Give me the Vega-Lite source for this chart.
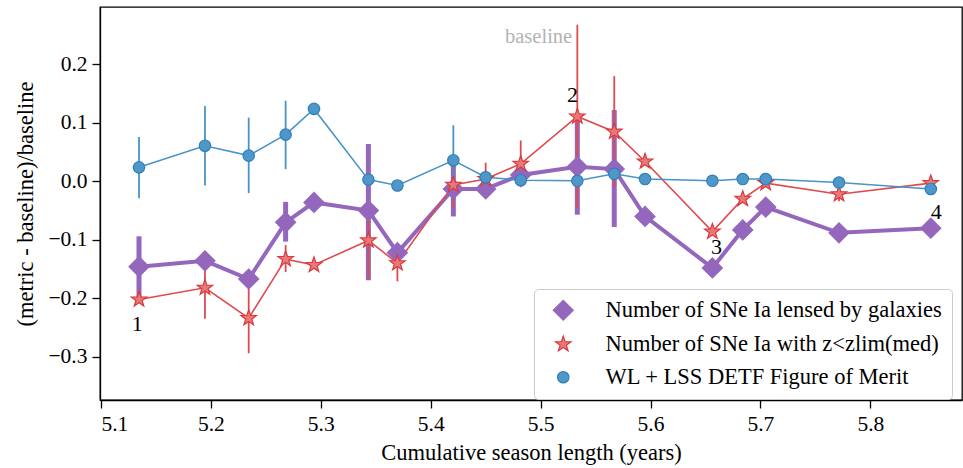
{
  "$schema": "https://vega.github.io/schema/vega-lite/v6.json",
  "width": 862,
  "height": 393,
  "autosize": {"type": "none"},
  "padding": {"left": 100, "top": 7, "right": 1, "bottom": 68},
  "config": {
    "font": "'Liberation Serif', 'DejaVu Serif', 'Times New Roman', serif",
    "view": {"stroke": "#000", "strokeWidth": 1.3},
    "axis": {
      "labelFont": "'Liberation Serif', 'DejaVu Serif', 'Times New Roman', serif", "labelFontSize": 21.5, "labelColor": "#000",
      "titleFont": "'Liberation Serif', 'DejaVu Serif', 'Times New Roman', serif", "titleFontSize": 22.5, "titleFontWeight": "normal", "titleColor": "#000",
      "tickColor": "#000", "tickSize": 8, "tickWidth": 1.3,
      "domainColor": "#000", "domainWidth": 1.3, "grid": false, "labelPadding": 5
    },
    "legend": {"labelFont": "'Liberation Serif', 'DejaVu Serif', 'Times New Roman', serif"},
    "text": {"font": "'Liberation Serif', 'DejaVu Serif', 'Times New Roman', serif"}
  },
  "datasets": {
    "pts": [
      {"m": "Number of SNe Ia lensed by galaxies", "x": 5.1346, "y": -0.146, "lo": -0.198, "hi": -0.094},
      {"m": "Number of SNe Ia lensed by galaxies", "x": 5.1946, "y": -0.136},
      {"m": "Number of SNe Ia lensed by galaxies", "x": 5.2344, "y": -0.167},
      {"m": "Number of SNe Ia lensed by galaxies", "x": 5.268, "y": -0.070, "lo": -0.103, "hi": -0.035},
      {"m": "Number of SNe Ia lensed by galaxies", "x": 5.2938, "y": -0.036},
      {"m": "Number of SNe Ia lensed by galaxies", "x": 5.3433, "y": -0.050, "lo": -0.169, "hi": 0.064},
      {"m": "Number of SNe Ia lensed by galaxies", "x": 5.3697, "y": -0.122},
      {"m": "Number of SNe Ia lensed by galaxies", "x": 5.4206, "y": -0.013, "lo": -0.060, "hi": 0.031},
      {"m": "Number of SNe Ia lensed by galaxies", "x": 5.45, "y": -0.013},
      {"m": "Number of SNe Ia lensed by galaxies", "x": 5.4819, "y": 0.011},
      {"m": "Number of SNe Ia lensed by galaxies", "x": 5.5334, "y": 0.025, "lo": -0.057, "hi": 0.107},
      {"m": "Number of SNe Ia lensed by galaxies", "x": 5.567, "y": 0.021, "lo": -0.078, "hi": 0.122},
      {"m": "Number of SNe Ia lensed by galaxies", "x": 5.595, "y": -0.060},
      {"m": "Number of SNe Ia lensed by galaxies", "x": 5.6563, "y": -0.148},
      {"m": "Number of SNe Ia lensed by galaxies", "x": 5.6839, "y": -0.083},
      {"m": "Number of SNe Ia lensed by galaxies", "x": 5.7048, "y": -0.044},
      {"m": "Number of SNe Ia lensed by galaxies", "x": 5.7715, "y": -0.088, "lo": -0.100, "hi": -0.076},
      {"m": "Number of SNe Ia lensed by galaxies", "x": 5.855, "y": -0.080},
      {"m": "Number of SNe Ia with z<zlim(med)", "x": 5.1346, "y": -0.202},
      {"m": "Number of SNe Ia with z<zlim(med)", "x": 5.1946, "y": -0.182, "lo": -0.235, "hi": -0.134},
      {"m": "Number of SNe Ia with z<zlim(med)", "x": 5.2344, "y": -0.234, "lo": -0.294, "hi": -0.169},
      {"m": "Number of SNe Ia with z<zlim(med)", "x": 5.268, "y": -0.133, "lo": -0.155, "hi": -0.109},
      {"m": "Number of SNe Ia with z<zlim(med)", "x": 5.2938, "y": -0.143},
      {"m": "Number of SNe Ia with z<zlim(med)", "x": 5.3433, "y": -0.101, "lo": -0.167, "hi": -0.035},
      {"m": "Number of SNe Ia with z<zlim(med)", "x": 5.3697, "y": -0.140, "lo": -0.171, "hi": -0.117},
      {"m": "Number of SNe Ia with z<zlim(med)", "x": 5.4206, "y": -0.006, "lo": -0.045, "hi": 0.032},
      {"m": "Number of SNe Ia with z<zlim(med)", "x": 5.45, "y": 0.004, "lo": -0.024, "hi": 0.032},
      {"m": "Number of SNe Ia with z<zlim(med)", "x": 5.4819, "y": 0.030, "lo": -0.010, "hi": 0.070},
      {"m": "Number of SNe Ia with z<zlim(med)", "x": 5.5334, "y": 0.111, "lo": -0.046, "hi": 0.268},
      {"m": "Number of SNe Ia with z<zlim(med)", "x": 5.567, "y": 0.085, "lo": -0.010, "hi": 0.180},
      {"m": "Number of SNe Ia with z<zlim(med)", "x": 5.595, "y": 0.034},
      {"m": "Number of SNe Ia with z<zlim(med)", "x": 5.6563, "y": -0.086},
      {"m": "Number of SNe Ia with z<zlim(med)", "x": 5.6839, "y": -0.030},
      {"m": "Number of SNe Ia with z<zlim(med)", "x": 5.7048, "y": -0.003},
      {"m": "Number of SNe Ia with z<zlim(med)", "x": 5.7715, "y": -0.022, "lo": -0.034, "hi": -0.010},
      {"m": "Number of SNe Ia with z<zlim(med)", "x": 5.855, "y": -0.003},
      {"m": "WL + LSS DETF Figure of Merit", "x": 5.1346, "y": 0.024, "lo": -0.029, "hi": 0.076},
      {"m": "WL + LSS DETF Figure of Merit", "x": 5.1946, "y": 0.061, "lo": -0.007, "hi": 0.129},
      {"m": "WL + LSS DETF Figure of Merit", "x": 5.2344, "y": 0.044, "lo": -0.020, "hi": 0.109},
      {"m": "WL + LSS DETF Figure of Merit", "x": 5.268, "y": 0.080, "lo": 0.021, "hi": 0.138},
      {"m": "WL + LSS DETF Figure of Merit", "x": 5.2938, "y": 0.124},
      {"m": "WL + LSS DETF Figure of Merit", "x": 5.3433, "y": 0.003},
      {"m": "WL + LSS DETF Figure of Merit", "x": 5.3697, "y": -0.007},
      {"m": "WL + LSS DETF Figure of Merit", "x": 5.4206, "y": 0.036, "lo": -0.024, "hi": 0.096},
      {"m": "WL + LSS DETF Figure of Merit", "x": 5.45, "y": 0.007},
      {"m": "WL + LSS DETF Figure of Merit", "x": 5.4819, "y": 0.002},
      {"m": "WL + LSS DETF Figure of Merit", "x": 5.5334, "y": 0.001},
      {"m": "WL + LSS DETF Figure of Merit", "x": 5.567, "y": 0.013},
      {"m": "WL + LSS DETF Figure of Merit", "x": 5.595, "y": 0.004},
      {"m": "WL + LSS DETF Figure of Merit", "x": 5.6563, "y": 0.001},
      {"m": "WL + LSS DETF Figure of Merit", "x": 5.6839, "y": 0.004},
      {"m": "WL + LSS DETF Figure of Merit", "x": 5.7048, "y": 0.004},
      {"m": "WL + LSS DETF Figure of Merit", "x": 5.7715, "y": -0.002, "lo": -0.012, "hi": 0.008},
      {"m": "WL + LSS DETF Figure of Merit", "x": 5.855, "y": -0.013}
    ],
    "ann": [
      {"t": "1", "x": 5.133, "y": -0.244},
      {"t": "2", "x": 5.529, "y": 0.148},
      {"t": "3", "x": 5.66, "y": -0.112},
      {"t": "4", "x": 5.86, "y": -0.052}
    ],
    "base": [
      {"t": "baseline", "x": 5.4667, "y": 0.247}
    ]
  },
  "layer": [
    {
      "mark": {"type": "rule", "color": "#b3b3b3", "strokeDash": [6, 4], "strokeWidth": 1.6},
      "encoding": {
        "x": {"datum": 5.4667, "type": "quantitative",
          "scale": {"domain": [5.0991, 5.8834], "nice": false, "zero": false},
          "axis": {"values": [5.1, 5.2, 5.3, 5.4, 5.5, 5.6, 5.7, 5.8], "format": ".1f", "title": "Cumulative season length (years)", "titlePadding": 7}}
      }
    },
    {
      "data": {"name": "base"},
      "mark": {"type": "text", "align": "left", "baseline": "middle", "dx": 1, "color": "#b3b3b3", "fontSize": 20.5},
      "encoding": {
        "x": {"field": "x", "type": "quantitative"},
        "y": {"field": "y", "type": "quantitative",
          "scale": {"domain": [-0.374, 0.2983], "nice": false, "zero": false},
          "axis": {"values": [-0.3, -0.2, -0.1, 0, 0.1, 0.2], "format": ".1f", "title": "(metric - baseline)/baseline", "titlePadding": 10}},
        "text": {"field": "t"}
      }
    },
    {
      "data": {"name": "pts"},
      "transform": [{"filter": "datum.m == 'Number of SNe Ia lensed by galaxies' && isValid(datum.lo)"}],
      "mark": {"type": "rule", "color": "#9467bd", "strokeWidth": 5},
      "encoding": {"x": {"field": "x", "type": "quantitative"}, "y": {"field": "lo", "type": "quantitative"}, "y2": {"field": "hi"}}
    },
    {
      "data": {"name": "pts"},
      "transform": [{"filter": "datum.m == 'Number of SNe Ia lensed by galaxies'"}],
      "mark": {"type": "line", "color": "#9467bd", "strokeWidth": 4},
      "encoding": {"x": {"field": "x", "type": "quantitative"}, "y": {"field": "y", "type": "quantitative"}}
    },
    {
      "data": {"name": "pts"},
      "transform": [{"filter": "datum.m == 'Number of SNe Ia with z<zlim(med)' && isValid(datum.lo)"}],
      "mark": {"type": "rule", "color": "#de4a4d", "strokeWidth": 1.8},
      "encoding": {"x": {"field": "x", "type": "quantitative"}, "y": {"field": "lo", "type": "quantitative"}, "y2": {"field": "hi"}}
    },
    {
      "data": {"name": "pts"},
      "transform": [{"filter": "datum.m == 'Number of SNe Ia with z<zlim(med)'"}],
      "mark": {"type": "line", "color": "#de4a4d", "strokeWidth": 1.6},
      "encoding": {"x": {"field": "x", "type": "quantitative"}, "y": {"field": "y", "type": "quantitative"}}
    },
    {
      "data": {"name": "pts"},
      "transform": [{"filter": "datum.m == 'WL + LSS DETF Figure of Merit' && isValid(datum.lo)"}],
      "mark": {"type": "rule", "color": "#4a93c8", "strokeWidth": 1.8},
      "encoding": {"x": {"field": "x", "type": "quantitative"}, "y": {"field": "lo", "type": "quantitative"}, "y2": {"field": "hi"}}
    },
    {
      "data": {"name": "pts"},
      "transform": [{"filter": "datum.m == 'WL + LSS DETF Figure of Merit'"}],
      "mark": {"type": "line", "color": "#4a93c8", "strokeWidth": 1.6},
      "encoding": {"x": {"field": "x", "type": "quantitative"}, "y": {"field": "y", "type": "quantitative"}}
    },
    {
      "mark": {"type": "rule", "color": "#808080", "strokeDash": [9, 5], "strokeWidth": 2.5},
      "encoding": {"y": {"datum": 0, "type": "quantitative"}}
    },
    {
      "data": {"name": "pts"},
      "mark": {"type": "point", "filled": true, "opacity": 1, "strokeWidth": 1.2},
      "encoding": {
        "x": {"field": "x", "type": "quantitative"},
        "y": {"field": "y", "type": "quantitative"},
        "fill": {"field": "m", "type": "nominal",
          "scale": {"domain": ["Number of SNe Ia lensed by galaxies", "Number of SNe Ia with z<zlim(med)", "WL + LSS DETF Figure of Merit"], "range": ["#9467bd", "#e8797b", "#5097c9"]},
          "legend": {"title": null, "orient": "none", "legendX": 434, "legendY": 282, "padding": 10,
            "strokeColor": "#cccccc", "fillColor": "rgba(255,255,255,0.85)", "cornerRadius": 4,
            "labelFontSize": 22.5, "labelColor": "#000", "labelLimit": 500,
            "symbolOffset": 8, "labelOffset": 31, "rowPadding": 10, "symbolStrokeWidth": 1.2}},
        "stroke": {"field": "m", "type": "nominal",
          "scale": {"domain": ["Number of SNe Ia lensed by galaxies", "Number of SNe Ia with z<zlim(med)", "WL + LSS DETF Figure of Merit"], "range": ["#9467bd", "#d93a3d", "#2f7fba"]}},
        "shape": {"field": "m", "type": "nominal",
          "scale": {"domain": ["Number of SNe Ia lensed by galaxies", "Number of SNe Ia with z<zlim(med)", "WL + LSS DETF Figure of Merit"], "range": ["diamond", "M0,-1L0.235,-0.324L0.951,-0.309L0.380,0.124L0.588,0.809L0,0.4L-0.588,0.809L-0.380,0.124L-0.951,-0.309L-0.235,-0.324Z", "circle"]}},
        "size": {"field": "m", "type": "nominal",
          "scale": {"domain": ["Number of SNe Ia lensed by galaxies", "Number of SNe Ia with z<zlim(med)", "WL + LSS DETF Figure of Merit"], "range": [400, 130, 270]}}
      }
    },
    {
      "data": {"name": "ann"},
      "mark": {"type": "text", "fontSize": 22, "color": "#000"},
      "encoding": {
        "x": {"field": "x", "type": "quantitative"},
        "y": {"field": "y", "type": "quantitative"},
        "text": {"field": "t"}
      }
    }
  ]
}
